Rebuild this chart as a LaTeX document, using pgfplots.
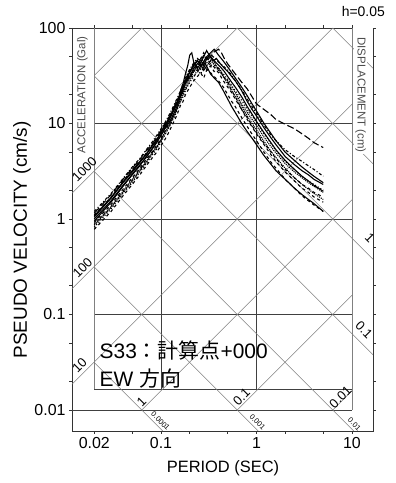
\documentclass[border=0pt]{standalone}
\usepackage{fontspec}
\setmainfont{Liberation Sans}
\newfontfamily\cjk{Noto Sans CJK JP}
\usepackage{pgfplots}
\pgfplotsset{compat=1.18}
\begin{document}
\begin{tikzpicture}[x=1bp,y=1bp]
\useasboundingbox (0,0) rectangle (395,483);
\begin{axis}[
  at={(72bp,52bp)}, anchor=south west,
  scale only axis, width=301bp, height=403bp,
  xmode=log, ymode=log,
  xmin=0.01169, xmax=16.6, ymin=0.006026, ymax=100,
  axis line style={draw=none},
  tick align=outside,
  major tick length=3bp, minor tick length=3bp,
  tick style={black!80, line width=0.6bp},
  xtick={0.02,0.1,1,10}, xticklabels={0.02,0.1,1,10},
  minor xtick={0.05,0.2,0.5,2,5},
  ytick={0.01,0.1,1,10,100}, yticklabels={0.01,0.1,1,10,100},
  minor ytick={0.02,0.05,0.2,0.5,2,5,20,50},
  ticklabel style={font=\fontsize{16}{18}\selectfont},
  /pgf/number format/assume math mode=true,
  clip=false,
  every axis plot/.append style={black, line width=1.1bp},
]
% frame
\draw[black!80, line width=0.8bp] (axis cs:0.01169,100) -- (axis cs:10,100);
\draw[black!80, line width=0.8bp] (axis cs:0.01169,100) -- (axis cs:0.01169,0.006026) -- (axis cs:16.6,0.006026) -- (axis cs:16.6,100);
% grid
\begin{scope}[black!75, line width=0.6bp]
\draw (axis cs:0.02,10) -- (axis cs:10,10);
\draw (axis cs:0.02,1) -- (axis cs:10,1);
\draw (axis cs:0.02,0.1) -- (axis cs:10,0.1);
\draw (axis cs:0.01169,0.01) -- (axis cs:10,0.01);
\draw (axis cs:0.02,0.0166) -- (axis cs:10,0.0166);
\draw (axis cs:0.1,0.0166) -- (axis cs:0.1,100);
\draw (axis cs:1,0.0166) -- (axis cs:1,100);
\end{scope}
\begin{scope}[black!50, line width=0.8bp]
\draw (axis cs:0.02,0.0166) -- (axis cs:0.02,100);
\draw (axis cs:10,0.01) -- (axis cs:10,100);
\end{scope}
% diagonals: acceleration
\begin{scope}[black!50, line width=0.5bp]
\draw (axis cs:0.02,31.83) -- (axis cs:0.06283,100);
\draw (axis cs:0.01169,1.8605) -- (axis cs:0.6283,100);
\draw (axis cs:0.01169,0.18605) -- (axis cs:6.283,100);
\draw (axis cs:0.01169,0.018605) -- (axis cs:10,15.9155);
\draw (axis cs:0.06283,0.01) -- (axis cs:10,1.59155);
\draw (axis cs:0.6283,0.01) -- (axis cs:10,0.159155);
\draw (axis cs:6.283,0.01) -- (axis cs:10,0.0159155);
% displacement
\draw (axis cs:6.283,100) -- (axis cs:16.6,37.85);
\draw (axis cs:0.6283,100) -- (axis cs:16.6,3.785);
\draw (axis cs:0.06283,100) -- (axis cs:16.6,0.3785);
\draw (axis cs:0.02,31.416) -- (axis cs:16.6,0.03785);
\draw (axis cs:0.02,3.1416) -- (axis cs:10.427,0.006026);
\draw (axis cs:0.02,0.31416) -- (axis cs:1.0427,0.006026);
\draw (axis cs:0.02,0.031416) -- (axis cs:0.10427,0.006026);
\end{scope}
% axis name labels
\node[rotate=90, fill=white, inner sep=1bp, text=black!70, font=\fontsize{11.5}{13}\selectfont] at (axis cs:0.01507,19.9) {ACCELERATION (Gal)};
\node[rotate=-90, fill=white, inner sep=1bp, text=black!70, font=\fontsize{11.5}{13}\selectfont] at (axis cs:12.3,19.9) {DISPLACEMENT (cm)};
% diagonal labels
\begin{scope}[every node/.style={font=\fontsize{13}{15}\selectfont, inner sep=0pt}]
\node[rotate=45] at (axis cs:0.0158,3.34) {1000};
\node[rotate=45] at (axis cs:0.01507,0.307) {100};
\node[rotate=45] at (axis cs:0.01402,0.0296) {10};
\node[rotate=45] at (axis cs:0.0625,0.0121) {1};
\node[rotate=45] at (axis cs:0.697,0.01368) {0.1};
\node[rotate=45] at (axis cs:7.58,0.01368) {0.01};
\node[rotate=-45] at (axis cs:15.4,0.632) {1};
\node[rotate=-45] at (axis cs:13.4,0.0689) {0.1};
\end{scope}
\begin{scope}[every node/.style={font=\fontsize{7.5}{9}\selectfont, inner sep=0pt}]
\node[rotate=-45] at (axis cs:0.0988,0.00767) {0.0001};
\node[rotate=-45] at (axis cs:1.024,0.00748) {0.001};
\node[rotate=-45] at (axis cs:10.6,0.00713) {0.01};
\end{scope}
% data
\addplot[solid] coordinates {(0.02,1.05)(0.03,1.65)(0.04,2.4)(0.05,3.1)(0.06,3.9)(0.07,4.7)(0.08,5.8)(0.09,6.6)(0.1,8.2)(0.11,9.5)(0.12,11)(0.13,12.5)(0.14,15)(0.15,17)(0.16,22)(0.17,26)(0.18,33)(0.19,40)(0.2,52)(0.21,55)(0.22,44)(0.24,38)(0.26,42)(0.28,36)(0.3,40)(0.33,33)(0.36,30)(0.4,27)(0.45,22)(0.5,18)(0.55,15)(0.6,13)(0.7,10)(0.8,8.2)(0.9,7)(1.0,6)(1.2,4.6)(1.4,3.8)(1.6,3.2)(2,2.6)(2.5,2.1)(3,1.8)(3.5,1.6)(4,1.45)(5,1.2)};
\addplot[dashed] coordinates {(0.02,0.78)(0.03,1.2)(0.04,1.75)(0.05,2.3)(0.06,2.9)(0.07,3.6)(0.08,4.3)(0.09,5.0)(0.1,5.9)(0.11,6.8)(0.12,8)(0.13,9.5)(0.14,11)(0.15,13)(0.16,15.5)(0.17,17)(0.18,20)(0.2,24)(0.22,28)(0.24,31)(0.26,34)(0.28,30)(0.3,36)(0.33,40)(0.36,35)(0.4,38)(0.45,31)(0.5,27)(0.55,22)(0.6,19)(0.7,14)(0.8,11)(0.9,9.2)(1.0,7.8)(1.2,6)(1.4,4.8)(1.6,4.0)(2,3.1)(2.5,2.5)(3,2.1)(3.5,1.9)(4,1.7)(5,1.5)};
\addplot[densely dotted] coordinates {(0.02,0.88)(0.03,1.35)(0.04,1.95)(0.05,2.6)(0.06,3.3)(0.07,3.9)(0.08,4.9)(0.09,5.7)(0.1,6.8)(0.11,8.2)(0.12,9.2)(0.13,11)(0.14,12.5)(0.15,15)(0.16,17)(0.17,20)(0.18,23)(0.2,28)(0.22,35)(0.24,40)(0.26,37)(0.28,45)(0.3,50)(0.32,44)(0.35,47)(0.38,40)(0.42,36)(0.46,30)(0.5,28)(0.55,24)(0.6,21)(0.7,16)(0.8,13)(0.9,11)(1.0,9.5)(1.2,7.2)(1.4,5.8)(1.6,4.9)(2,3.8)(2.5,3.1)(3,2.7)(3.5,2.4)(4,2.2)(5,1.9)};
\addplot[dash pattern=on 7bp off 3bp] coordinates {(0.02,1.15)(0.03,1.8)(0.04,2.6)(0.05,3.4)(0.06,4.2)(0.07,5.2)(0.08,6.0)(0.09,7.2)(0.1,8.5)(0.11,10)(0.12,11.5)(0.13,13)(0.14,15.5)(0.15,18)(0.16,20)(0.17,23)(0.18,27)(0.2,32)(0.22,36)(0.24,34)(0.26,40)(0.28,38)(0.3,45)(0.33,50)(0.36,56)(0.4,60)(0.43,55)(0.46,48)(0.5,42)(0.55,37)(0.6,33)(0.7,27)(0.8,23)(0.9,19)(1.0,16)(1.2,14)(1.4,12.5)(1.6,11)(2,9.8)(2.5,8.8)(3,7.8)(3.5,7)(4,6.3)(5,5.6)};
\addplot[solid] coordinates {(0.02,0.95)(0.03,1.5)(0.04,2.2)(0.05,2.9)(0.06,3.6)(0.07,4.5)(0.08,5.3)(0.09,6.3)(0.1,7.5)(0.11,8.8)(0.12,10)(0.13,11.5)(0.14,13.5)(0.15,16)(0.16,19)(0.17,22)(0.18,26)(0.2,31)(0.22,38)(0.24,42)(0.26,46)(0.28,41)(0.3,47)(0.32,52)(0.35,45)(0.38,48)(0.42,42)(0.46,38)(0.5,35)(0.55,31)(0.6,28)(0.7,22)(0.8,17)(0.9,14)(1.0,12)(1.2,9)(1.4,7.2)(1.6,6)(2,4.5)(2.5,3.7)(3,3.2)(3.5,2.9)(4,2.6)(5,2.3)};
\addplot[dashed] coordinates {(0.02,1.1)(0.03,1.7)(0.04,2.5)(0.05,3.3)(0.06,4.0)(0.07,4.9)(0.08,5.9)(0.09,7.0)(0.1,8.1)(0.11,9.8)(0.12,11.2)(0.13,13.5)(0.14,16)(0.15,18)(0.16,21)(0.17,25)(0.18,29)(0.2,36)(0.22,42)(0.24,38)(0.26,47)(0.28,55)(0.3,48)(0.33,42)(0.36,39)(0.4,34)(0.45,28)(0.5,24)(0.55,21)(0.6,18)(0.7,14)(0.8,11.5)(0.9,9.5)(1.0,8)(1.2,6.2)(1.4,5.1)(1.6,4.3)(2,3.3)(2.5,2.7)(3,2.3)(3.5,2.1)(4,1.9)(5,1.7)};
\addplot[dotted] coordinates {(0.02,0.82)(0.03,1.28)(0.04,1.85)(0.05,2.4)(0.06,3.1)(0.07,3.8)(0.08,4.6)(0.09,5.4)(0.1,6.4)(0.11,7.6)(0.12,8.9)(0.13,10.5)(0.14,12)(0.15,14.5)(0.16,17)(0.17,19)(0.18,22)(0.2,27)(0.22,31)(0.24,36)(0.26,33)(0.28,39)(0.3,44)(0.33,40)(0.36,43)(0.4,37)(0.45,33)(0.5,29)(0.55,25)(0.6,22)(0.7,17.5)(0.8,14)(0.9,12)(1.0,10.2)(1.2,7.8)(1.4,6.3)(1.6,5.2)(2,4)(2.5,3.3)(3,2.8)(3.5,2.5)(4,2.3)(5,2.0)};
\addplot[solid] coordinates {(0.02,1.0)(0.03,1.55)(0.04,2.25)(0.05,2.95)(0.06,3.7)(0.07,4.4)(0.08,5.4)(0.09,6.4)(0.1,7.6)(0.11,9)(0.12,10.5)(0.13,12.5)(0.14,14.5)(0.15,17.5)(0.16,21)(0.17,24)(0.18,28)(0.2,34)(0.22,40)(0.24,45)(0.26,43)(0.28,50)(0.3,58)(0.32,52)(0.35,47)(0.38,43)(0.42,39)(0.46,35)(0.5,31)(0.55,27)(0.6,24)(0.7,19)(0.8,15)(0.9,12.5)(1.0,10.5)(1.2,8)(1.4,6.4)(1.6,5.3)(2,4.1)(2.5,3.3)(3,2.8)(3.5,2.5)(4,2.25)(5,1.95)};
\addplot[dashed] coordinates {(0.02,0.92)(0.03,1.42)(0.04,2.05)(0.05,2.7)(0.06,3.4)(0.07,4.2)(0.08,5.0)(0.09,5.9)(0.1,7.0)(0.11,8.3)(0.12,9.8)(0.13,11.5)(0.14,13.5)(0.15,16.5)(0.16,19.5)(0.17,23)(0.18,27)(0.2,33)(0.22,30)(0.24,37)(0.26,44)(0.28,40)(0.3,37)(0.33,34)(0.36,31)(0.4,28)(0.45,24)(0.5,20)(0.55,17)(0.6,15)(0.7,11.5)(0.8,9.3)(0.9,7.7)(1.0,6.6)(1.2,5.0)(1.4,4.0)(1.6,3.4)(2,2.6)(2.5,2.1)(3,1.75)(3.5,1.55)(4,1.4)(5,1.2)};
\addplot[dash dot] coordinates {(0.02,1.2)(0.03,1.85)(0.04,2.65)(0.05,3.5)(0.06,4.3)(0.07,5.3)(0.08,6.3)(0.09,7.5)(0.1,8.8)(0.11,10.2)(0.12,12)(0.13,14)(0.14,16.5)(0.15,19)(0.16,22)(0.17,26)(0.18,30)(0.2,37)(0.22,43)(0.24,48)(0.26,45)(0.28,52)(0.3,47)(0.33,53)(0.36,49)(0.4,44)(0.45,40)(0.5,36)(0.55,32)(0.6,28)(0.7,22.5)(0.8,18)(0.9,15)(1.0,12.8)(1.2,9.6)(1.4,7.7)(1.6,6.6)(2,5.3)(2.5,4.5)(3,4.0)(3.5,3.6)(4,3.3)(5,2.8)};
\addplot[densely dotted] coordinates {(0.02,0.86)(0.03,1.32)(0.04,1.9)(0.05,2.5)(0.06,3.2)(0.07,4.0)(0.08,4.8)(0.09,5.6)(0.1,6.6)(0.11,7.8)(0.12,9.1)(0.13,10.8)(0.14,12.8)(0.15,15)(0.16,18)(0.17,21)(0.18,24)(0.2,30)(0.22,36)(0.24,42)(0.26,48)(0.28,44)(0.3,40)(0.33,46)(0.36,41)(0.4,36)(0.45,31)(0.5,26)(0.55,22)(0.6,19.5)(0.7,15)(0.8,12)(0.9,10)(1.0,8.6)(1.2,6.5)(1.4,5.2)(1.6,4.4)(2,3.4)(2.5,2.7)(3,2.3)(3.5,2.05)(4,1.85)(5,1.6)};
\addplot[solid] coordinates {(0.02,1.08)(0.03,1.68)(0.04,2.45)(0.05,3.2)(0.06,4.0)(0.07,4.8)(0.08,5.7)(0.09,6.8)(0.1,8.0)(0.11,9.4)(0.12,11)(0.13,13)(0.14,15)(0.15,17.5)(0.16,20)(0.17,24)(0.18,28)(0.2,35)(0.22,41)(0.24,46)(0.26,40)(0.28,44)(0.3,50)(0.33,55)(0.36,60)(0.4,52)(0.45,45)(0.5,39)(0.55,34)(0.6,30)(0.7,24)(0.8,19.5)(0.9,16)(1.0,13.5)(1.2,10)(1.4,8)(1.6,6.6)(2,5)(2.5,4.1)(3,3.5)(3.5,3.1)(4,2.8)(5,2.4)};
% text
\node[anchor=base west, inner sep=0pt, font=\fontsize{21}{24}\selectfont] at (axis cs:0.0227,0.035) {S33{\cjk ：計算点}+000};
\node[anchor=base west, inner sep=0pt, font=\fontsize{21}{24}\selectfont] at (axis cs:0.0227,0.0178) {EW {\cjk 方向}};
\end{axis}
\node[anchor=base east, inner sep=0pt, font=\fontsize{14}{16}\selectfont] at (385,466) {h=0.05};
\node[rotate=90, inner sep=0pt, font=\fontsize{19}{22}\selectfont] at (22,243) {PSEUDO VELOCITY (cm/s)};
\node[inner sep=0pt, font=\fontsize{16.5}{19}\selectfont] at (223,15) {PERIOD (SEC)};
\end{tikzpicture}
\end{document}
